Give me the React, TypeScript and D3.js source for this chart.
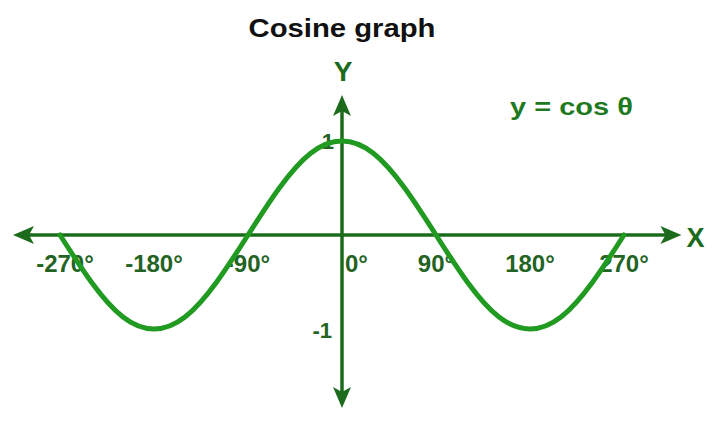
import * as d3 from 'd3'
import { FC } from 'react'

const WIDTH = 720
const HEIGHT = 425

// angle (degrees) and the value
const ANGLES = [-270, -240, -210, -180, -150, -120, -90, -60, -30, 0, 30, 60, 90, 120, 150, 180, 210, 240, 270]
const VALUES = [0, -0.5, -0.87, -1, -0.87, -0.5, 0, 0.5, 0.87, 1, 0.87, 0.5, 0, -0.5, -0.87, -1, -0.87, -0.5, 0]

const X_TICKS = [-270, -180, -90, 0, 90, 180, 270]
const Y_TICKS = [1, -1]

const X_EXTENT = [-315, 325]
const Y_EXTENT = [-1.84, 1.49]

const AXIS_COLOR = '#1c6b1c'
const CURVE_COLOR = '#209a20'
const LABEL_COLOR = '#236323'
const FONT = '"Liberation Sans", Arial, sans-serif'

const xScale = d3.scaleLinear().domain([-270, 270]).range([60, 624])
const yScale = d3.scaleLinear().domain([-1, 1]).range([329, 141])

// arrow head pointing in +x direction at the origin, rotated as needed
const arrowHead = 'M0,0 L-21,-9 L-16,0 L-21,9 Z'

const App: FC = () => {
  const x0 = xScale(0)
  const y0 = yScale(0)

  const line = d3
    .line<number>()
    .x((_, i) => xScale(ANGLES[i]))
    .y((d) => yScale(d))
    .curve(d3.curveNatural)

  return (
    <svg
      width={ WIDTH }
      height={ HEIGHT }
      style={ { position: 'absolute', left: 0, top: 0, background: '#fff' } }
      fontFamily={ FONT }
    >
      <text
        x={ x0 }
        y={ 37 }
        textAnchor='middle'
        fontSize={ 26 }
        fontWeight='bold'
        fill='#111'
        textLength={ 187 }
        lengthAdjust='spacingAndGlyphs'
      >
        Cosine graph
      </text>

      {/* axes */}
      <line
        x1={ xScale(X_EXTENT[0]) + 10 }
        x2={ xScale(X_EXTENT[1]) - 10 }
        y1={ y0 }
        y2={ y0 }
        stroke={ AXIS_COLOR }
        strokeWidth={ 3.5 }
      />
      <path d={ arrowHead } fill={ AXIS_COLOR } transform={ `translate(${xScale(X_EXTENT[1])},${y0})` } />
      <path d={ arrowHead } fill={ AXIS_COLOR } transform={ `translate(${xScale(X_EXTENT[0])},${y0}) rotate(180)` } />

      <line
        x1={ x0 }
        x2={ x0 }
        y1={ yScale(Y_EXTENT[1]) + 10 }
        y2={ yScale(Y_EXTENT[0]) - 10 }
        stroke={ AXIS_COLOR }
        strokeWidth={ 3.5 }
      />
      <path d={ arrowHead } fill={ AXIS_COLOR } transform={ `translate(${x0},${yScale(Y_EXTENT[1])}) rotate(-90)` } />
      <path d={ arrowHead } fill={ AXIS_COLOR } transform={ `translate(${x0},${yScale(Y_EXTENT[0])}) rotate(90)` } />

      <text x={ xScale(X_EXTENT[1]) + 14 } y={ y0 + 12 } textAnchor='middle' fontSize={ 27 } fontWeight='bold' fill={ AXIS_COLOR }>
        X
      </text>
      <text x={ x0 + 1 } y={ yScale(Y_EXTENT[1]) - 14 } textAnchor='middle' fontSize={ 28 } fontWeight='bold' fill={ AXIS_COLOR }>
        Y
      </text>

      {/* tick labels */}
      { X_TICKS.map((t) => (
        <text
          key={ t }
          x={ t === 0 ? x0 + 3 : xScale(t) + (t === -270 ? 5 : 0) }
          y={ y0 + 37 }
          textAnchor={ t === 0 ? 'start' : 'middle' }
          fontSize={ 24 }
          fontWeight='bold'
          fill={ LABEL_COLOR }
        >
          { `${t}°` }
        </text>
      )) }
      { Y_TICKS.map((t) => (
        <text
          key={ t }
          x={ x0 - (t > 0 ? 8 : 10) }
          y={ yScale(t) + (t > 0 ? 8 : 9) }
          textAnchor='end'
          fontSize={ 22 }
          fontWeight='bold'
          fill={ LABEL_COLOR }
        >
          { t }
        </text>
      )) }

      <text
        x={ 510 }
        y={ 115 }
        fontSize={ 24 }
        fontWeight='bold'
        fill='#1f7a1f'
        textLength={ 123 }
        lengthAdjust='spacingAndGlyphs'
      >
        y = cos θ
      </text>

      {/* curve */}
      <path
        d={ line(VALUES) as string }
        fill='none'
        stroke={ CURVE_COLOR }
        strokeWidth={ 5 }
        strokeLinecap='round'
      />
    </svg>
  )
}

export default App
